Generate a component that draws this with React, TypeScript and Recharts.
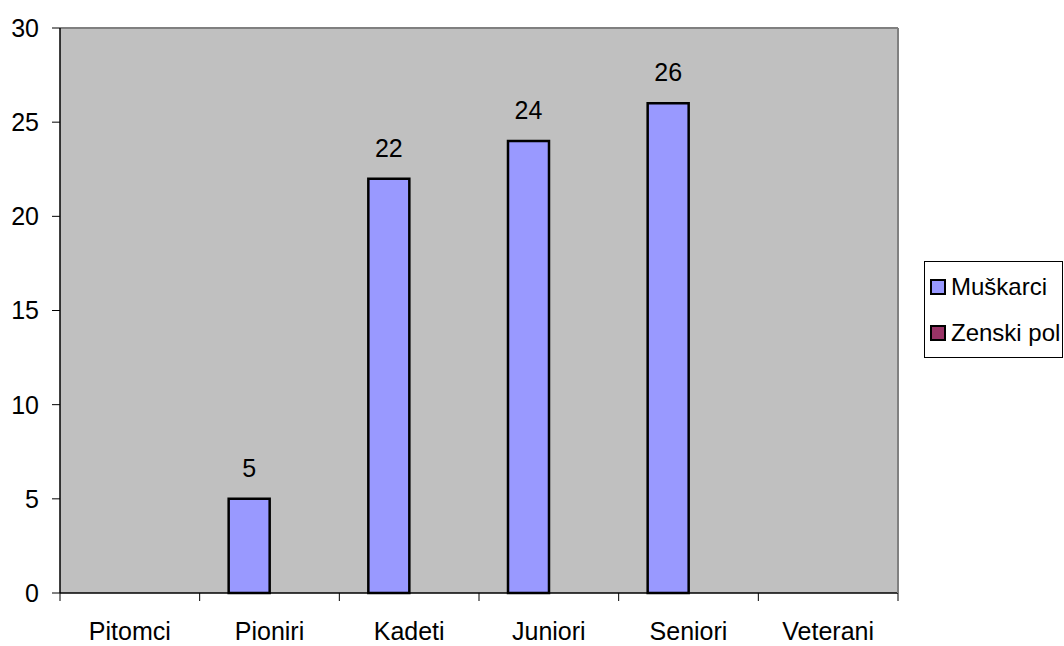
import { Bar, BarChart, CartesianGrid, LabelList, Legend, ReferenceLine, XAxis, YAxis } from "recharts";

const categories = ["Pitomci", "Pioniri", "Kadeti", "Juniori", "Seniori", "Veterani"];
const muskarci = [null, 5, 22, 24, 26, null];
const zenskiPol = [null, null, null, null, null, null];
const yTicks = [0, 5, 10, 15, 20, 25, 30];

const data = categories.map((name, i) => ({
  name,
  muskarci: muskarci[i],
  zenski: zenskiPol[i],
}));

const FONT = "'Liberation Sans', Arial, sans-serif";

// Excel puts the category ticks between the bands, so draw them at the band edges
const CategoryTick = ({ x, y, payload, index }: any) => {
  const half = payload.offset || 0;
  const last = index === categories.length - 1;
  return (
    <g>
      <line x1={x - half} x2={x - half} y1={y} y2={y + 8} stroke="#000" />
      {last && <line x1={x + half} x2={x + half} y1={y} y2={y + 8} stroke="#000" />}
      <text
        x={x}
        y={y + 29}
        dy="0.71em"
        textAnchor="middle"
        fontFamily={FONT}
        fontSize={25}
        fill="#000"
      >
        {payload.value}
      </text>
    </g>
  );
};

const LegendBox = ({ payload }: any) => (
  <div
    style={{
      border: "1px solid #000",
      background: "#fff",
      width: 139,
      height: 97,
      boxSizing: "border-box",
      paddingTop: 2,
      fontFamily: FONT,
      fontSize: 24,
      color: "#000",
    }}
  >
    {(payload || []).map((p: any) => (
      <div key={p.value} style={{ display: "flex", alignItems: "center", height: 46, paddingLeft: 5 }}>
        <span
          style={{
            display: "inline-block",
            width: 12,
            height: 12,
            border: "2px solid #000",
            background: p.color,
            marginRight: 5,
          }}
        />
        <span>{p.value}</span>
      </div>
    ))}
  </div>
);

export default function App() {
  return (
    <div style={{ position: "absolute", left: 0, top: 0, background: "#fff" }}>
      <BarChart
        width={1064}
        height={646}
        data={data}
        margin={{ top: 28, right: 165, bottom: 0, left: 0 }}
        barCategoryGap={29}
        barGap={0}
      >
        <CartesianGrid fill="#C0C0C0" horizontal={false} vertical={false} />
        <XAxis
          dataKey="name"
          height={53}
          tickSize={0}
          tickMargin={0}
          tickLine={false}
          axisLine={{ stroke: "#000", strokeWidth: 1.5 }}
          tick={<CategoryTick />}
          interval={0}
        />
        <YAxis
          width={60}
          domain={[0, 30]}
          ticks={yTicks}
          tickSize={8}
          tickMargin={13}
          axisLine={{ stroke: "#000", strokeWidth: 1.5 }}
          tickLine={{ stroke: "#000" }}
          tick={{ fontFamily: FONT, fontSize: 25, fill: "#000" }}
        />
        <YAxis
          yAxisId="border"
          orientation="right"
          width={1}
          domain={[0, 30]}
          tick={false}
          tickLine={false}
          axisLine={{ stroke: "#808080", strokeWidth: 2 }}
        />
        <ReferenceLine y={30} stroke="#808080" strokeWidth={2} />
        <Legend
          layout="vertical"
          align="center"
          verticalAlign="middle"
          content={<LegendBox />}
          wrapperStyle={{ position: "absolute", left: 924, top: 261, width: 139 }}
        />
        <Bar dataKey="muskarci" name="Muškarci" fill="#9999FF" stroke="#000" strokeWidth={2.5} isAnimationActive={false}>
          <LabelList
            dataKey="muskarci"
            position="top"
            offset={22}
            style={{ fontFamily: FONT, fontSize: 25, fill: "#000" }}
          />
        </Bar>
        <Bar dataKey="zenski" name="Zenski pol" fill="#993366" stroke="#000" strokeWidth={2.5} isAnimationActive={false} />
      </BarChart>
    </div>
  );
}
